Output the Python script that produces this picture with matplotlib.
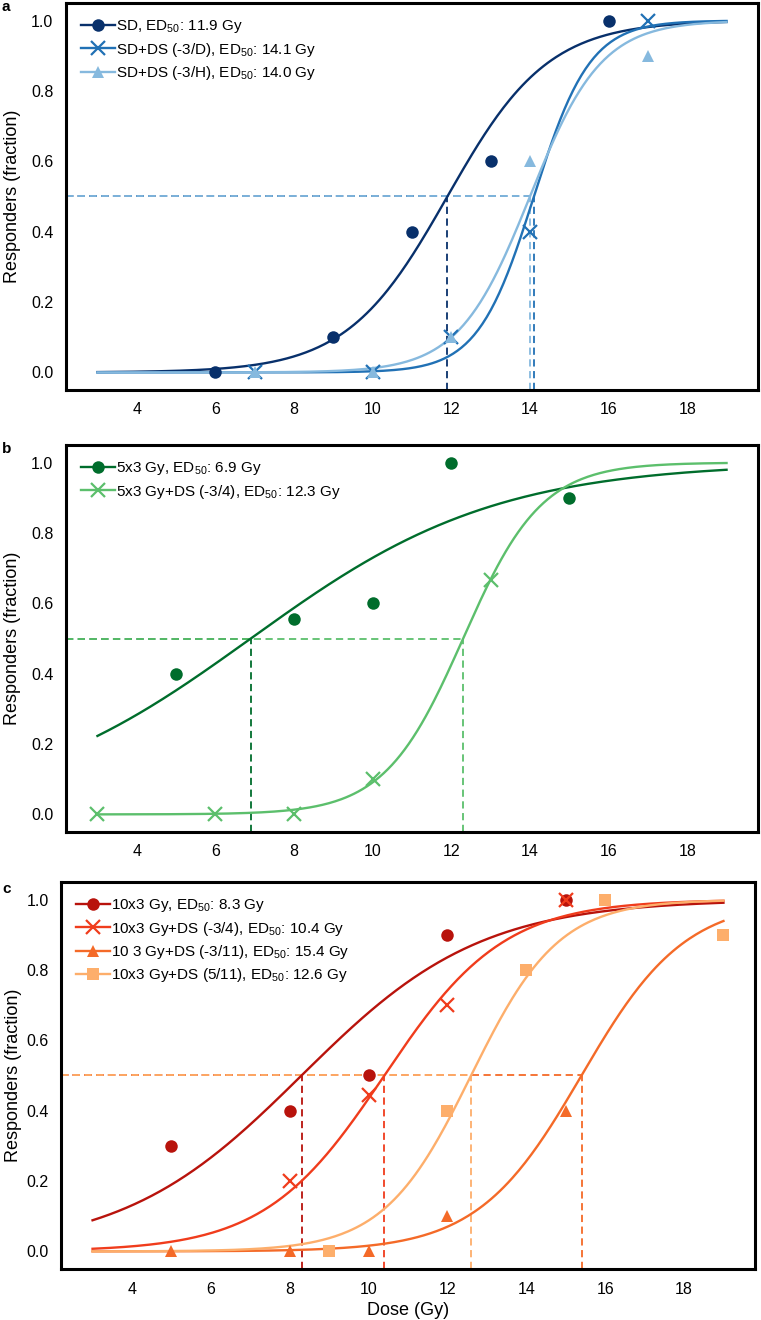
import numpy as np
import matplotlib
matplotlib.use("Agg")
import matplotlib.pyplot as plt

plt.rcParams['font.family'] = ['Liberation Sans', 'DejaVu Sans']
plt.rcParams['mathtext.fontset'] = 'custom'
plt.rcParams['mathtext.rm'] = 'Liberation Sans'
plt.rcParams['mathtext.it'] = 'Liberation Sans'

# ---------------- data ----------------
# Panel a
a_labels = ["SD, ED$_{50}$: 11.9 Gy", "SD+DS (-3/D), ED$_{50}$: 14.1 Gy", "SD+DS (-3/H), ED$_{50}$: 14.0 Gy"]
a_x = [[6, 9, 11, 13, 16], [7, 10, 12, 14, 17], [7, 10, 12, 14, 17]]
a_y = [[0.0, 0.1, 0.4, 0.6, 1.0], [0.0, 0.0, 0.1, 0.4, 1.0], [0.0, 0.0, 0.1, 0.6, 0.9]]
a_ed50 = [11.9, 14.1, 14.0]
a_slope = [0.78, 1.4, 1.1]
a_colors = ["#08306b", "#2171b5", "#86b9de"]
a_markers = ["o", "x", "^"]

# Panel b
b_labels = ["5x3 Gy, ED$_{50}$: 6.9 Gy", "5x3 Gy+DS (-3/4), ED$_{50}$: 12.3 Gy"]
b_x = [[5, 8, 10, 12, 15], [3, 6, 8, 10, 13]]
b_y = [[0.4, 0.556, 0.6, 1.0, 0.9], [0.0, 0.0, 0.0, 0.1, 0.667]]
b_ed50 = [6.9, 12.3]
b_slope = [0.32, 1.0]
b_colors = ["#006d2c", "#5cbf6c"]
b_markers = ["o", "x"]

# Panel c
c_labels = ["10x3 Gy, ED$_{50}$: 8.3 Gy", "10x3 Gy+DS (-3/4), ED$_{50}$: 10.4 Gy",
            "10 3 Gy+DS (-3/11), ED$_{50}$: 15.4 Gy", "10x3 Gy+DS (5/11), ED$_{50}$: 12.6 Gy"]
c_x = [[5, 8, 10, 12, 15], [8, 10, 12, 15], [5, 8, 10, 12, 15], [9, 12, 14, 16, 19]]
c_y = [[0.3, 0.4, 0.5, 0.9, 1.0], [0.2, 0.444, 0.7, 1.0], [0.0, 0.0, 0.0, 0.1, 0.4], [0.0, 0.4, 0.8, 1.0, 0.9]]
c_ed50 = [8.3, 10.4, 15.4, 12.6]
c_slope = [0.44, 0.66, 0.76, 0.9]
c_colors = ["#b8130c", "#f03c1c", "#f46a28", "#fdae6b"]
c_markers = ["o", "x", "^", "s"]

xticks = [4, 6, 8, 10, 12, 14, 16, 18]
yticks = [0.0, 0.2, 0.4, 0.6, 0.8, 1.0]
dose_range = (3, 19)
xlim = (2.2, 19.8)
ylim = (-0.05, 1.05)

fig = plt.figure(figsize=(7.61, 13.2), dpi=100)
W, H = 761.0, 1320.0

def axes_px(left, top, right, bottom):
    return fig.add_axes([left / W, 1 - bottom / H, (right - left) / W, (bottom - top) / H])

def draw(ax, labels, xs, ys, ed50s, slopes, colors, markers, show_xlabel=False, ypad=7):
    xx = np.linspace(dose_range[0], dose_range[1], 300)
    handles = []
    for lab, x, y, e, k, c, m in zip(labels, xs, ys, ed50s, slopes, colors, markers):
        yy = 1.0 / (1.0 + np.exp(-k * (xx - e)))
        ax.plot(xx, yy, color=c, lw=1.7, zorder=3)
        ms = 9 if m == "o" else (10 if m == "x" else 9)
        ax.plot(x, y, linestyle="none", marker=m, color=c, markersize=ms,
                markeredgewidth=1.6 if m == "x" else 0, zorder=4)
        ax.plot([xlim[0], e], [0.5, 0.5], color=c, lw=1.3, ls=(0, (4, 2.5)), zorder=2)
        ax.plot([e, e], [ylim[0], 0.5], color=c, lw=1.3, ls=(0, (4, 2.5)), zorder=2)
        h, = ax.plot([], [], color=c, lw=1.7, marker=m, markersize=ms,
                     markeredgewidth=1.6 if m == "x" else 0)
        handles.append(h)
    ax.legend(handles, labels, loc="upper left", frameon=False, fontsize=11,
              handlelength=2.2, handletextpad=0.1, labelspacing=0.35,
              borderaxespad=0.6)
    ax.set_xlim(*xlim)
    ax.set_ylim(*ylim)
    ax.set_xticks(xticks)
    ax.set_yticks(yticks)
    ax.set_yticklabels([f"{v:.1f}" for v in yticks])
    ax.tick_params(length=0, labelsize=11.5, pad=9)
    for s in ax.spines.values():
        s.set_linewidth(2.2)
        s.set_color("black")
    ax.set_ylabel("Responders (fraction)", fontsize=13, labelpad=ypad)
    if show_xlabel:
        ax.set_xlabel("Dose (Gy)", fontsize=13, labelpad=4)

ax_a = axes_px(66, 3, 758, 390)
draw(ax_a, a_labels, a_x, a_y, a_ed50, a_slope, a_colors, a_markers)
ax_b = axes_px(66, 445, 758, 832)
draw(ax_b, b_labels, b_x, b_y, b_ed50, b_slope, b_colors, b_markers)
ax_c = axes_px(61, 882, 755, 1269)
draw(ax_c, c_labels, c_x, c_y, c_ed50, c_slope, c_colors, c_markers, show_xlabel=True, ypad=3)

for lab, ypx in [("a", 7), ("b", 449), ("c", 889)]:
    fig.text(2 / W, 1 - ypx / H, lab, fontsize=11, fontweight="bold", va="center", ha="left")

fig.savefig("out.png", dpi=100)
